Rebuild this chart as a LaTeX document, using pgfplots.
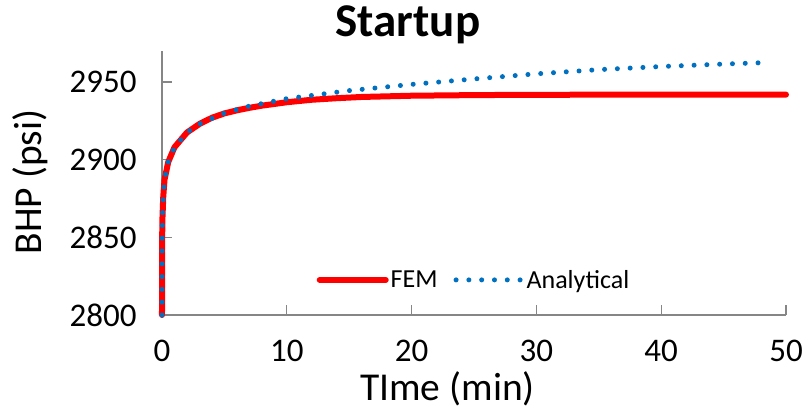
\documentclass[border=0pt]{standalone}
\usepackage{pgfplots}
\pgfplotsset{compat=1.18}
\usepackage{fontspec}
\setmainfont{Carlito}
\definecolor{axgray}{RGB}{134,134,134}
\definecolor{exblue}{RGB}{0,112,192}
\begin{document}
\begin{tikzpicture}
\useasboundingbox (-162bp,-101bp) rectangle (643bp,315bp);
\begin{axis}[
  at={(0,0)}, anchor=south west,
  scale only axis, width=624bp, height=264bp,
  xmin=0, xmax=50, ymin=2800, ymax=2970,
  xtick={0,10,20,30,40,50}, ytick={2800,2850,2900,2950},
  axis x line*=bottom, axis y line*=left,
  axis line style={axgray, line width=1.2bp, -},
  tick style={axgray, line width=1.2bp},
  tick align=inside, major tick length=10bp,
  /pgf/number format/assume math mode=true,
  /pgf/number format/1000 sep={},
  tick label style={font=\fontsize{33bp}{38bp}\selectfont},
  xticklabel shift=22bp,
  yticklabel shift=22bp,
  xlabel={TIme (min)}, ylabel={BHP (psi)},
  label style={font=\fontsize{39.5bp}{44bp}\selectfont},
  xlabel style={at={(axis description cs:0.4575,0)}, anchor=base, yshift=-85bp},
  ylabel style={at={(axis description cs:-0.1923,0.504)}, anchor=base},
  title={Startup},
  title style={font=\fontsize{47bp}{52bp}\selectfont\bfseries, at={(axis description cs:0.394,1)}, anchor=base, yshift=9bp},
  legend style={draw=none, fill=none, at={(axis description cs:0.5,0.133)}, anchor=center,
    font=\fontsize{26bp}{30bp}\selectfont, legend columns=2,
    /tikz/every even column/.append style={column sep=14bp}},
  legend cell align=left,
  legend image code/.code={\draw[#1] (0bp,0bp) -- (66bp,0bp);},
  clip=false,
]
\addplot[red, line width=6bp, line cap=round, line join=round] coordinates {
(0,2800) (0.001,2815) (0.003,2830) (0.01,2846) (0.03,2861) (0.1,2876) (0.2,2887)
(0.5,2898.5) (1,2908) (2,2917.5) (3,2923) (4,2927) (5,2929.8) (6,2931.8) (7,2933.4)
(8,2934.8) (10,2937.0) (12,2938.6) (14,2939.6) (16,2940.4) (20,2941.2) (25,2941.6)
(30,2941.8) (40,2941.9) (50,2941.9)};
\addlegendentry{FEM}
\addplot[exblue, line width=5bp, line cap=round, dash pattern=on 0bp off 12.8bp] coordinates {
(0,2800) (0.001,2815) (0.003,2830) (0.01,2846) (0.03,2861) (0.1,2876) (0.2,2887)
(0.5,2898.5) (1,2908) (2,2917.5) (3,2923) (5,2930) (7,2934.5) (10,2939.3) (15,2944.5)
(20,2948.5) (25,2952) (30,2955.3) (35,2958) (40,2960) (45,2961.6) (48.6,2962.6)};
\addlegendentry{Analytical}
\end{axis}
\end{tikzpicture}
\end{document}
